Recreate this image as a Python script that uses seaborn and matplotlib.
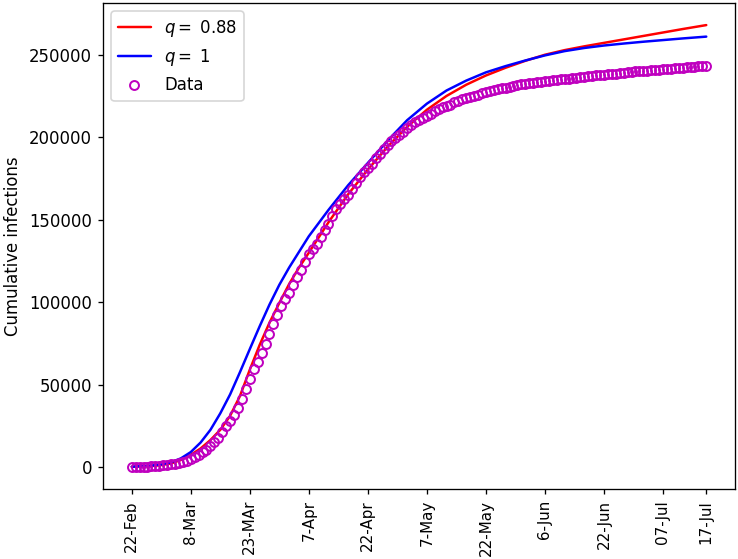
import numpy as np
import pandas as pd
import matplotlib
matplotlib.use("Agg")
import matplotlib.pyplot as plt
import seaborn as sns

# ---- data -------------------------------------------------------------
# observed cumulative infections (one value per day)
data_cases = [
    3, 20, 79, 157, 229, 323, 470, 655, 889, 1128,
    1694, 2036, 2502, 3089, 3858, 4636, 5883, 7375, 9172, 10149,
    12462, 15113, 17660, 21157, 24747, 27980, 31506, 35713, 41035, 47021,
    53578, 59138, 63927, 69176, 74386, 80589, 86498, 92472, 97689, 101739,
    105792, 110574, 115242, 119827, 124632, 128948, 132547, 135586, 139422, 143626,
    147577, 152271, 156363, 159516, 162488, 165155, 168941, 172434, 175925, 178972,
    181228, 183957, 187327, 189973, 192994, 195351, 197675, 199414, 201505, 203591,
    205463, 207428, 209328, 210717, 211938, 213013, 214457, 215858, 217185, 218268,
    219070, 219814, 221216, 222104, 223096, 223885, 224760, 225435, 225886, 226699,
    227364, 228006, 228658, 229327, 229858, 230158, 230555, 231139, 231732, 232248,
    232664, 233019, 233197, 233515, 233836, 234013, 234531, 234801, 234998, 235278,
    235561, 235763, 236142, 236305, 236651, 236989, 237290, 237500, 237828, 238159,
    238011, 238275, 238499, 238720, 238833, 239410, 239706, 239961, 240136, 240310,
    240436, 240578, 240760, 240961, 241184, 241419, 241611, 241819, 241956, 242149,
    242363, 242639, 242827, 243061, 243230, 243344, 243506,
]
data_days = list(range(len(data_cases)))

# model q = 0.88 (red)
red_days = [0, 5, 7.5, 10, 12.5, 15, 17.5, 20, 22.5, 25, 27.5, 30, 32.5, 35, 37.5,
            40, 42.5, 45, 50, 55, 60, 65, 70, 75, 80, 85, 90, 95, 100, 105, 110,
            115, 120, 125, 130, 135, 140, 146]
red_vals = [100, 500, 1100, 2100, 4200, 7300, 11200, 16300, 22500, 31000, 43000,
            59000, 74000, 87500, 99500, 111000, 121000, 130000, 148500, 165500,
            180500, 194300, 206500, 216800, 225200, 232000, 237600, 242300, 246500,
            250200, 253000, 255300, 257400, 259500, 261600, 263700, 265800, 268200]

# model q = 1 (blue)
blue_days = [0, 5, 7.5, 10, 12.5, 15, 17.5, 20, 22.5, 25, 27.5, 30, 32.5, 35, 37.5,
             40, 45, 50, 55, 60, 65, 70, 75, 80, 85, 90, 95, 100, 105, 110, 115,
             120, 125, 130, 135, 140, 146]
blue_vals = [100, 800, 1500, 2800, 5200, 9000, 14800, 22500, 32500, 44000, 57500,
             71500, 85300, 98500, 110500, 121000, 140000, 156000, 171000, 184500,
             198000, 210500, 220500, 228500, 234500, 239500, 243300, 246700, 249800,
             252400, 254300, 255800, 257000, 258100, 259100, 260100, 261200]

tick_days = [0, 15, 30, 45, 60, 75, 90, 105, 120, 135, 146]
tick_labels = ["22-Feb", "8-Mar", "23-MAr", "7-Apr", "22-Apr", "7-May",
               "22-May", "6-Jun", "22-Jun", "07-Jul", "17-Jul"]

# ---- plot -------------------------------------------------------------
sns.set_style("ticks")
plt.rcParams["font.family"] = ["DejaVu Sans"]
plt.rcParams["text.color"] = "black"
plt.rcParams["axes.labelcolor"] = "black"
plt.rcParams["xtick.color"] = "black"
plt.rcParams["ytick.color"] = "black"
plt.rcParams["axes.edgecolor"] = "black"
plt.rcParams["mathtext.fontset"] = "dejavusans"
plt.rcParams["xtick.major.size"] = 3.2
plt.rcParams["ytick.major.size"] = 3.2

fig = plt.figure(figsize=(738 / 119, 559 / 119), dpi=119)
ax = fig.add_axes([103 / 738, 1 - 489 / 559, (735 - 103) / 738, (489 - 3) / 559])

sns.lineplot(x=red_days, y=red_vals, color="red", linewidth=1.5,
             label=r"$q=$ 0.88", ax=ax)
sns.lineplot(x=blue_days, y=blue_vals, color="blue", linewidth=1.5,
             label=r"$q=$ 1", ax=ax)
sns.lineplot(x=data_days, y=data_cases, color="m", linestyle="", marker="o",
             markersize=5.4, markerfacecolor="none", markeredgecolor="m",
             markeredgewidth=1.2, label="Data", ax=ax)

ax.set_xticks(tick_days)
ax.set_xticklabels(tick_labels, rotation=90, fontsize=9.2)
ax.set_yticks([0, 50000, 100000, 150000, 200000, 250000])
ax.ticklabel_format(axis="y", style="plain")
ax.tick_params(axis="y", labelsize=10)
ax.set_ylabel("Cumulative infections", fontsize=10)
ax.set_xlabel("")
ax.margins(x=0.05, y=0.05)
for s in ax.spines.values():
    s.set_linewidth(0.8)
    s.set_color("black")

ax.legend(loc="upper left", frameon=True, fontsize=10)

fig.savefig("out.png", dpi=119)
